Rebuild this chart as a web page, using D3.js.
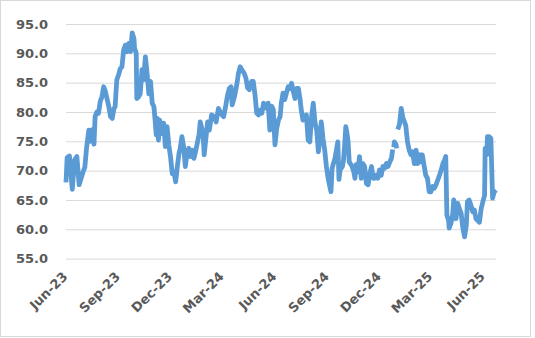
<!DOCTYPE html>
<html>
<head>
<meta charset="utf-8">
<script src="https://cdn.jsdelivr.net/npm/d3@7/dist/d3.min.js"></script>
<style>
  html, body { margin: 0; padding: 0; background: #ffffff; }
  svg { display: block; }
  .tick-label { font-family: "DejaVu Sans", sans-serif; font-weight: bold; font-size: 13px; fill: #595959; }
</style>
</head>
<body>
<svg id="chart" width="535" height="338"></svg>
<script>
// Daily closing levels, sampled roughly every few trading days; null marks a holiday break.
const tradeDates = [
  "2023-06-01","2023-06-03","2023-06-07","2023-06-12","2023-06-16","2023-06-20","2023-06-24",
  "2023-07-01","2023-07-04","2023-07-07","2023-07-11","2023-07-13","2023-07-17","2023-07-20",
  "2023-07-22","2023-07-25","2023-07-28","2023-07-31","2023-08-03","2023-08-06","2023-08-09",
  "2023-08-15","2023-08-18","2023-08-21","2023-08-24","2023-08-26","2023-08-29","2023-09-01",
  "2023-09-04","2023-09-07","2023-09-10","2023-09-13","2023-09-16","2023-09-19","2023-09-22",
  "2023-09-25","2023-09-28","2023-09-29","2023-10-02","2023-10-03","2023-10-06","2023-10-09",
  "2023-10-12","2023-10-15","2023-10-18","2023-10-21","2023-10-24","2023-10-27","2023-10-30",
  "2023-11-02","2023-11-04","2023-11-06","2023-11-08","2023-11-10","2023-11-12","2023-11-16",
  "2023-11-19","2023-11-22","2023-11-25","2023-11-28","2023-12-01","2023-12-04","2023-12-07",
  "2023-12-10","2023-12-13","2023-12-16","2023-12-18","2023-12-21","2023-12-24","2023-12-27",
  "2023-12-30","2024-01-02","2024-01-05","2024-01-08","2024-01-11","2024-01-14","2024-01-17",
  "2024-01-20","2024-01-22","2024-01-27","2024-01-29","2024-02-01","2024-02-04","2024-02-07",
  "2024-02-11","2024-02-15","2024-02-19","2024-02-23","2024-02-27","2024-03-03","2024-03-07",
  "2024-03-10","2024-03-13","2024-03-16","2024-03-18","2024-03-22","2024-03-26","2024-03-29",
  "2024-04-01","2024-04-04","2024-04-08","2024-04-11","2024-04-14","2024-04-17","2024-04-21",
  "2024-04-24","2024-04-27","2024-04-30","2024-05-03","2024-05-06","2024-05-09","2024-05-12",
  "2024-05-15","2024-05-18","2024-05-20","2024-05-23","2024-05-26","2024-05-29","2024-06-01",
  "2024-06-04","2024-06-07","2024-06-10","2024-06-12","2024-06-15","2024-06-18","2024-06-21",
  "2024-06-24","2024-06-27","2024-06-30","2024-07-03","2024-07-06","2024-07-09","2024-07-12",
  "2024-07-15","2024-07-17","2024-07-20","2024-07-23","2024-07-26","2024-07-29","2024-08-01",
  "2024-08-04","2024-08-07","2024-08-10","2024-08-13","2024-08-16","2024-08-19","2024-08-21",
  "2024-08-24","2024-08-27","2024-08-30","2024-09-02","2024-09-05","2024-09-07","2024-09-09",
  "2024-09-14","2024-09-16","2024-09-19","2024-09-21","2024-09-23","2024-09-27","2024-09-29",
  "2024-10-01","2024-10-03","2024-10-05","2024-10-07","2024-10-09","2024-10-11","2024-10-14",
  "2024-10-17","2024-10-19","2024-10-21","2024-10-24","2024-10-27","2024-10-30","2024-11-02",
  "2024-11-05","2024-11-08","2024-11-11","2024-11-14","2024-11-17","2024-11-20","2024-11-22",
  "2024-11-25","2024-11-28","2024-12-01","2024-12-04","2024-12-07","2024-12-10","2024-12-13",
  "2024-12-16","2024-12-19","2024-12-22","2024-12-24","2024-12-25","2024-12-26","2024-12-27",
  "2024-12-30","2024-12-31","2025-01-01","2025-01-02","2025-01-05","2025-01-08","2025-01-11",
  "2025-01-13","2025-01-16",
  "2025-01-19","2025-01-22","2025-01-25","2025-01-28","2025-01-31","2025-02-03","2025-02-06",
  "2025-02-09","2025-02-12","2025-02-14","2025-02-17","2025-02-20","2025-02-23","2025-02-26",
  "2025-03-01","2025-03-04","2025-03-07","2025-03-10","2025-03-13","2025-03-16","2025-03-19",
  "2025-03-22","2025-03-25","2025-03-27","2025-03-29","2025-04-01","2025-04-02","2025-04-05",
  "2025-04-08","2025-04-10","2025-04-12","2025-04-14","2025-04-17","2025-04-20","2025-04-23",
  "2025-04-26","2025-04-29","2025-05-02","2025-05-04","2025-05-07","2025-05-10","2025-05-13",
  "2025-05-16","2025-05-19","2025-05-22","2025-05-25","2025-05-28","2025-05-31","2025-06-03",
  "2025-06-04","2025-06-07","2025-06-08","2025-06-11","2025-06-14","2025-06-17","2025-06-20",
  "2025-06-23"
];

const closeValues = [
  68.0, 72.2, 72.5, 66.8, 71.8, 72.4, 67.6,
  69.8, 70.6, 73.9, 76.9, 75.0, 77.0, 74.5,
  79.2, 80.0, 79.8, 81.8, 82.6, 84.3, 83.5,
  80.9, 79.2, 78.9, 80.6, 80.9, 85.5, 86.3,
  87.4, 87.7, 90.6, 91.4, 90.3, 91.7, 90.3,
  93.5, 92.5, 90.9, 90.0, 82.3, 82.6, 83.1,
  87.2, 85.5, 89.4, 86.6, 83.1, 85.2, 81.5,
  80.9, 78.6, 76.1, 78.9, 75.2, 78.6, 76.3,
  78.1, 74.1, 77.5, 74.4, 72.4, 69.5, 69.8,
  68.1, 70.7, 73.0, 73.8, 75.8, 74.1, 70.7,
  73.0, 73.8, 72.4, 73.5, 72.1, 73.3, 74.7,
  76.1, 78.3, 76.4, 72.7, 75.5, 78.3, 76.9,
  79.5, 79.2, 78.3, 80.6, 79.8, 79.2, 81.2,
  82.9, 84.0, 84.3, 81.2, 82.6, 84.6, 86.6,
  87.7, 87.2, 86.6, 85.8, 84.1, 83.8, 85.2,
  85.2, 82.9, 79.8, 79.5, 80.3, 79.8, 81.5,
  80.9, 80.6, 81.5, 76.9, 81.0, 80.4, 74.4,
  77.2, 78.6, 79.2, 81.5, 83.2, 82.1, 83.2,
  84.3, 84.0, 84.9, 83.5, 82.3, 84.0, 84.0,
  82.1, 80.3, 78.6, 78.9, 79.5, 75.2, 74.9,
  79.2, 81.5, 78.3, 76.9, 73.2, 75.8, 78.3,
  75.5, 73.5, 70.7, 68.7, 67.3, 66.4, 70.4,
  72.1, 73.2, 74.9, 68.5, 70.1, 70.7, 71.8,
  74.4, 77.5, 76.4, 74.9, 71.5, 71.2, 70.7,
  69.8, 68.7, 71.0, 69.8, 72.4, 68.7, 71.2,
  70.7, 67.8, 67.6, 69.5, 70.7, 68.7, 68.7,
  69.2, 68.7, 70.1, 69.2, 70.7, 70.4, 71.2,
  70.7, 71.5, 72.1, 73.6, null, 74.0, 74.9,
  74.4, 73.8, null, 77.0, 77.9, 80.6, 79.0,
  78.5, 77.7,
  74.9, 73.5, 72.7, 73.2, 71.2, 73.5, 71.2,
  72.7, 71.5, 72.7, 70.9, 69.2, 68.7, 66.4,
  66.4, 67.3, 67.0, 67.6, 68.4, 69.2, 70.1,
  71.2, 71.8, 72.4, 62.4, 61.5, 60.2, 61.0,
  62.4, 65.0, 64.1, 61.8, 64.4, 63.5, 62.7,
  60.2, 58.7, 60.7, 64.7, 65.0, 64.1, 63.0,
  63.3, 61.8, 61.5, 61.2, 63.5, 64.7, 65.8,
  73.8, 72.7, 75.8, 75.8, 75.5, 65.3, 66.4,
  66.7
];

const yTickValues = [55, 60, 65, 70, 75, 80, 85, 90, 95];
const xTickDates = ["2023-06-01","2023-09-01","2023-12-01","2024-03-01","2024-06-01",
                    "2024-09-01","2024-12-01","2025-03-01","2025-06-01"];

const parse = d3.timeParse("%Y-%m-%d");
const series = tradeDates.map((d, i) => ({ date: parse(d), value: closeValues[i] }));

const svg = d3.select("#chart");

// Chart frame
svg.append("rect")
  .attr("x", 0.5).attr("y", 0.5)
  .attr("width", 530).attr("height", 336)
  .attr("fill", "#ffffff")
  .attr("stroke", "#d9d9d9")
  .attr("stroke-width", 1);

const x = d3.scaleTime()
  .domain([parse(tradeDates[0]), parse(tradeDates[tradeDates.length - 1])])
  .range([66, 496]);

const y = d3.scaleLinear()
  .domain([55, 95])
  .range([258.6, 24]);

// Horizontal gridlines with value labels
const yAxis = d3.axisLeft(y)
  .tickValues(yTickValues)
  .tickSize(-(496 - 66))
  .tickPadding(18)
  .tickFormat(d3.format(".1f"));

const gy = svg.append("g")
  .attr("transform", "translate(66,0)")
  .call(yAxis);
gy.select(".domain").remove();
gy.selectAll(".tick line").attr("stroke", "#d9d9d9").attr("stroke-width", 1);
gy.selectAll(".tick text").attr("class", "tick-label").attr("x", -18);

// Quarterly date labels, rotated
const xAxis = d3.axisBottom(x)
  .tickValues(xTickDates.map(parse))
  .tickSize(0)
  .tickFormat(d3.timeFormat("%b-%y"));

const gx = svg.append("g")
  .attr("transform", "translate(0,258.6)")
  .call(xAxis);
gx.select(".domain").remove();
gx.selectAll(".tick text")
  .attr("class", "tick-label")
  .attr("text-anchor", "end")
  .attr("dy", null)
  .attr("y", 0)
  .attr("transform", "translate(-5,12) rotate(-45)")
  .attr("dominant-baseline", "hanging");

// Price line
const line = d3.line()
  .defined(d => d.value !== null)
  .x(d => x(d.date))
  .y(d => y(d.value));

svg.append("path")
  .datum(series)
  .attr("fill", "none")
  .attr("stroke", "#5b9bd5")
  .attr("stroke-width", 4.8)
  .attr("stroke-linejoin", "round")
  .attr("stroke-linecap", "butt")
  .attr("d", line);
</script>
</body>
</html>
